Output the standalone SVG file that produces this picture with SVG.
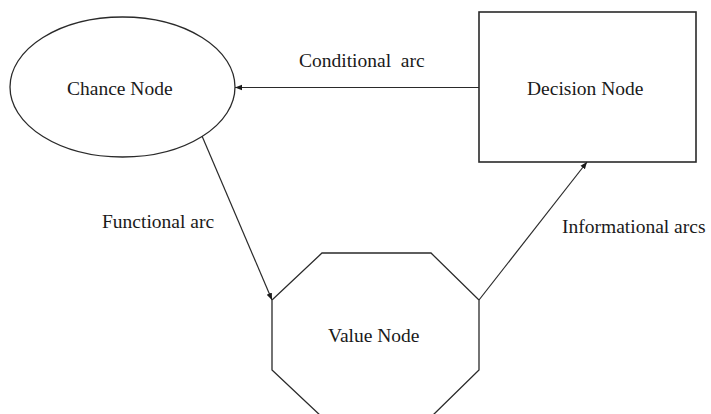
<svg xmlns="http://www.w3.org/2000/svg" width="711" height="414" viewBox="0 0 711 414">
<style>
.shape{fill:#fff;stroke:#2a2a2a;stroke-width:1.3}
.lbl{font-family:"Liberation Serif","Times New Roman",serif;font-size:19.5px;fill:#1a1a1a}
.edge{stroke:#2a2a2a;stroke-width:1.2;fill:none}
</style>
<defs>
<marker id="ah" viewBox="0 0 10 10" refX="10" refY="5" markerWidth="7" markerHeight="7" markerUnits="userSpaceOnUse" orient="auto">
<path d="M0,1 L10,5 L0,9 Z" fill="#1a1a1a"/>
</marker>
</defs>
<rect width="711" height="414" fill="#fff"/>
<g id="chance-node">
<ellipse class="shape" cx="122.5" cy="87" rx="112.5" ry="70"/>
<text class="lbl" x="67" y="95">Chance Node</text>
</g>
<g id="decision-node">
<rect class="shape" x="479" y="12" width="217" height="150" style="stroke-width:1.6"/>
<text class="lbl" x="527" y="95">Decision Node</text>
</g>
<g id="value-node">
<polygon class="shape" points="322,253 431,253 479,300 479,370 431,417 322,417 272,370 272,300"/>
<text class="lbl" x="328" y="342">Value Node</text>
</g>
<g id="connectors">
<line class="edge" x1="479" y1="87.5" x2="235" y2="87.5" marker-end="url(#ah)"/>
<line class="edge" x1="202" y1="136" x2="272" y2="300" marker-end="url(#ah)"/>
<line class="edge" x1="479" y1="300" x2="587" y2="162" marker-end="url(#ah)"/>
<text class="lbl" x="299" y="67" xml:space="preserve">Conditional  arc</text>
<text class="lbl" x="102" y="228">Functional arc</text>
<text class="lbl" x="562" y="233">Informational arcs</text>
</g>
</svg>
